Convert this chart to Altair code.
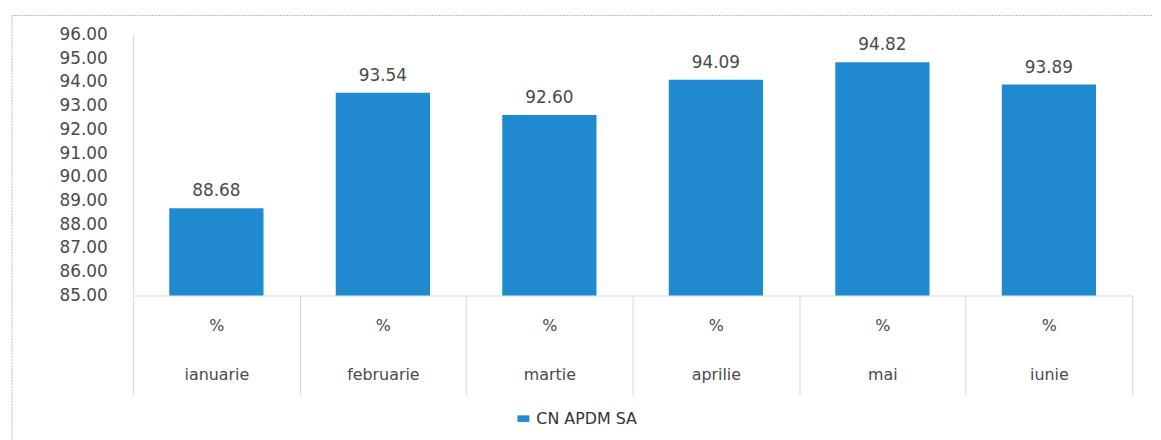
import altair as alt
import pandas as pd

months = ["ianuarie", "februarie", "martie", "aprilie", "mai", "iunie"]
values = [88.68, 93.54, 92.60, 94.09, 94.82, 93.89]
series = ["CN APDM SA"] * 6
y_ticks = [85, 86, 87, 88, 89, 90, 91, 92, 93, 94, 95, 96]

df = pd.DataFrame({"month": months, "value": values, "series": series})

BLUE = "#1f8ad0"
GRID = "#d6d6d6"
TXT = "#4a4a4a"
FONT = "DejaVu Sans"

x_axis = alt.Axis(
    title=None,
    labelAngle=0,
    labelExpr="datum.label ? ['%', datum.label] : ''",
    labelLineHeight=50,
    labelBaseline="top",
    labelPadding=-78,
    labelFont=FONT,
    labelFontSize=16,
    labelColor=TXT,
    tickBand="extent",
    tickSize=100,
    tickColor=GRID,
    domainColor=GRID,
    grid=False,
)

y_axis = alt.Axis(
    title=None,
    values=y_ticks,
    format=".2f",
    ticks=False,
    grid=False,
    labelOverlap=False,
    labelPadding=26,
    labelFont=FONT,
    labelFontSize=17,
    labelColor=TXT,
    domainColor=GRID,
)

x_enc = alt.X("month:N", sort=months,
              scale=alt.Scale(paddingInner=0, paddingOuter=0), axis=x_axis)
y_enc = alt.Y("value:Q",
              scale=alt.Scale(domain=[85, 96], zero=False, nice=False), axis=y_axis)

base = alt.Chart(df)

bars = base.mark_bar(clip=True, width=alt.RelativeBandSize(0.566)).encode(
    x=x_enc,
    y=y_enc,
    color=alt.Color(
        "series:N",
        scale=alt.Scale(range=[BLUE]),
        legend=alt.Legend(
            title=None,
            orient="none",
            legendX=385,
            legendY=379,
            symbolType="M-1,-0.55L1,-0.55L1,0.55L-1,0.55Z",
            symbolSize=144,
            symbolStrokeWidth=0,
            labelFont=FONT,
            labelFontSize=16,
            labelColor="#333333",
            labelOffset=5,
        ),
    ),
)

labels = base.mark_text(
    baseline="bottom", dy=-8, font=FONT, fontSize=17, color=TXT
).encode(
    x=x_enc,
    y=y_enc,
    text=alt.Text("value:Q", format=".2f"),
)

frame = alt.Chart(pd.DataFrame({"a": [0]})).mark_rect(
    fill=None, stroke="#b8b8b8", strokeWidth=1, strokeDash=[2, 1]
).encode(
    x=alt.value(-122),
    x2=alt.value(1100),
    y=alt.value(-19),
    y2=alt.value(430),
)

chart = (
    alt.layer(frame, bars, labels)
    .properties(
        width=1006,
        height=263,
        background="white",
        autosize=alt.AutoSizeParams(type="none"),
        padding={"left": 126, "top": 25, "right": 21, "bottom": 144},
    )
    .configure_view(strokeWidth=0, stroke="transparent")
    .configure_axis(grid=False)
)

chart.save("out.html", embed_options={"renderer": "svg", "actions": False})
